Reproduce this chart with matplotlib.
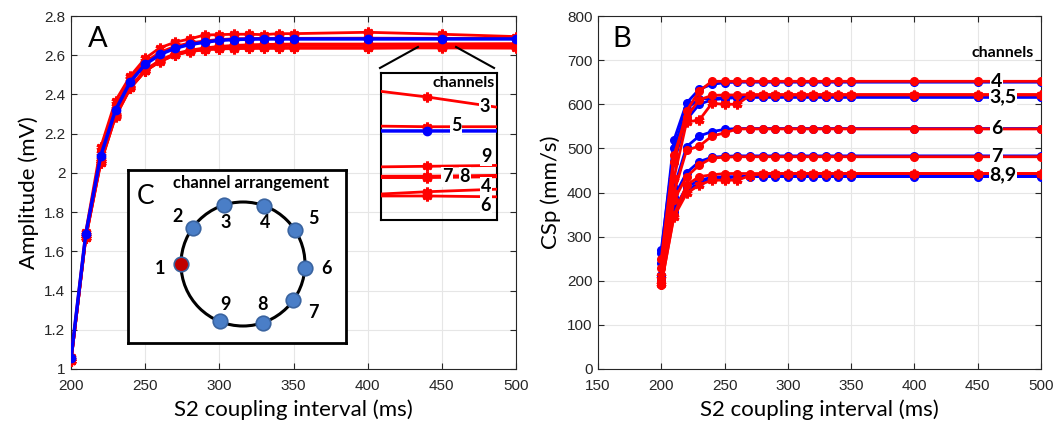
import matplotlib
matplotlib.use("Agg")
import matplotlib.pyplot as plt
from matplotlib.patches import Circle
import numpy as np

# ---------------- data ----------------
interval = [200, 210, 220, 230, 240, 250, 260, 270, 280, 290, 300, 310, 320, 330, 340, 350, 400, 450, 500]

# Panel A: amplitude (mV)
amp_ch3 = [1.06, 1.70, 2.13, 2.368, 2.494, 2.584, 2.638, 2.666, 2.683, 2.703, 2.705, 2.707, 2.707, 2.705, 2.710, 2.710, 2.717, 2.707, 2.695]
amp_ch5 = [1.05, 1.69, 2.10, 2.340, 2.480, 2.565, 2.615, 2.645, 2.662, 2.673, 2.680, 2.684, 2.685, 2.686, 2.686, 2.686, 2.687, 2.686, 2.686]
amp_ch9 = [1.04, 1.68, 2.07, 2.300, 2.440, 2.525, 2.575, 2.608, 2.625, 2.637, 2.645, 2.650, 2.653, 2.655, 2.656, 2.657, 2.657, 2.658, 2.659]
amp_ch7 = [1.04, 1.68, 2.06, 2.295, 2.437, 2.522, 2.572, 2.604, 2.621, 2.632, 2.640, 2.645, 2.647, 2.649, 2.650, 2.650, 2.650, 2.650, 2.651]
amp_ch8 = [1.04, 1.67, 2.06, 2.292, 2.435, 2.521, 2.570, 2.603, 2.620, 2.631, 2.639, 2.644, 2.647, 2.649, 2.650, 2.651, 2.651, 2.651, 2.652]
amp_ch4 = [1.04, 1.67, 2.05, 2.288, 2.433, 2.520, 2.568, 2.602, 2.619, 2.629, 2.633, 2.635, 2.636, 2.636, 2.636, 2.636, 2.636, 2.640, 2.643]
amp_ch6 = [1.04, 1.67, 2.05, 2.286, 2.431, 2.519, 2.567, 2.601, 2.618, 2.628, 2.632, 2.634, 2.635, 2.636, 2.636, 2.637, 2.637, 2.637, 2.636]
amp_blue = [1.054, 1.69, 2.086, 2.320, 2.465, 2.553, 2.604, 2.635, 2.655, 2.666, 2.676, 2.680, 2.682, 2.683, 2.683, 2.683, 2.683, 2.683, 2.683]

amp_red_series = [amp_ch3, amp_ch5, amp_ch9, amp_ch7, amp_ch8, amp_ch4, amp_ch6]

# Panel B: CSp (mm/s)
csp_ch4_red = [230, 470, 585, 630, 652, 652, 652, 652, 652, 652, 652, 652, 652, 652, 652, 652, 652, 652, 652]
csp_ch4_blue = [262, 519, 603, 634, 645, 649, 650, 650, 650, 650, 650, 650, 650, 650, 650, 650, 650, 650, 650]
csp_ch3_red = [210, 432, 560, 564, 602, 600, 600, 620, 621, 621, 621, 621, 621, 621, 621, 621, 621, 621, 621]
csp_ch5_red = [250, 485, 572, 610, 620, 621, 621, 622, 622, 622, 622, 622, 622, 622, 622, 622, 622, 622, 622]
csp_ch3_blue = [240, 470, 565, 600, 610, 613, 615, 616, 616, 616, 616, 616, 616, 616, 616, 616, 616, 616, 616]
csp_ch5_blue = [270, 500, 590, 612, 613, 615, 616, 616, 616, 616, 616, 616, 616, 616, 616, 616, 616, 616, 616]
csp_ch6_red = [200, 400, 496, 505, 528, 535, 544, 544, 544, 544, 544, 544, 544, 544, 544, 544, 544, 544, 544]
csp_ch6_blue = [212, 410, 504, 528, 538, 543, 545, 545, 545, 545, 545, 545, 545, 545, 545, 545, 545, 545, 545]
csp_ch7_red = [196, 383, 436, 462, 478, 480, 481, 481, 481, 481, 481, 481, 481, 481, 481, 481, 481, 481, 481]
csp_ch7_blue = [205, 390, 445, 470, 480, 482, 483, 483, 483, 483, 483, 483, 483, 483, 483, 483, 483, 483, 483]
csp_ch8_red = [190, 349, 417, 436, 440, 443, 443, 443, 443, 443, 443, 443, 443, 443, 443, 443, 443, 443, 443]
csp_ch9_red = [192, 345, 398, 417, 428, 428, 428, 438, 443, 443, 443, 443, 443, 443, 443, 443, 443, 443, 443]
csp_ch8_blue = [200, 362, 412, 428, 434, 436, 436, 437, 437, 437, 437, 437, 437, 437, 437, 437, 437, 437, 437]
csp_ch9_blue = [208, 356, 405, 421, 430, 433, 435, 436, 436, 436, 436, 436, 436, 436, 436, 436, 436, 436, 436]

csp_blue_series = [csp_ch4_blue, csp_ch3_blue, csp_ch5_blue, csp_ch6_blue, csp_ch7_blue, csp_ch8_blue, csp_ch9_blue]
csp_red_series = [csp_ch4_red, csp_ch5_red, csp_ch3_red, csp_ch6_red, csp_ch7_red, csp_ch8_red, csp_ch9_red]
csp_red_star = [False, False, True, False, False, False, True]

# labels
inset_labels = ["3", "5", "9", "7", "8", "4", "6"]
csp_labels = ["4", "3,5", "6", "7", "8,9"]
csp_label_values = [652, 618, 544, 482, 440]

# channel arrangement (angle in degrees on the ring)
chan_ids = ["1", "2", "3", "4", "5", "6", "7", "8", "9"]
chan_angles = [180, 144, 108, 70, 33, -4, -36, -71, -112]

# ---------------- style ----------------
RED = "#FF0000"
BLUE = "#0000FF"
TICKFONT = ["Liberation Sans", "DejaVu Sans"]
LABELFONT = ["Lato", "DejaVu Sans"]
asterisk = (6, 2, 0)

W, H = 1059, 428
fig = plt.figure(figsize=(W / 100, H / 100), dpi=100)


def fx(px):
    return px / W


def fy(py):
    return 1 - py / H


def style_axes(ax):
    ax.grid(True, color="#E6E6E6", linewidth=0.8)
    ax.set_axisbelow(True)
    for s in ax.spines.values():
        s.set_color("#262626")
        s.set_linewidth(0.8)
    ax.tick_params(direction="in", top=True, right=True, length=4, width=0.8,
                   color="#262626", labelsize=11, labelcolor="#262626")
    ax.tick_params(axis="x", pad=7)
    ax.tick_params(axis="y", pad=4)
    for lab in ax.get_xticklabels() + ax.get_yticklabels():
        lab.set_family(TICKFONT)


# ---------------- Panel A ----------------
axA = fig.add_axes([fx(71), fy(369), fx(516) - fx(71), fy(16) - fy(369)])
for s in amp_red_series:
    axA.plot(interval, s, color=RED, lw=2, marker=asterisk, ms=7, mew=2.2, zorder=3)
axA.plot(interval, amp_blue, color=BLUE, lw=2.5, marker="o", ms=6, zorder=4)
axA.set_xlim(200, 500)
axA.set_ylim(1, 2.8)
axA.set_xticks(range(200, 501, 50))
axA.set_yticks(np.arange(1, 2.81, 0.2))
axA.set_yticklabels(["1", "1.2", "1.4", "1.6", "1.8", "2", "2.2", "2.4", "2.6", "2.8"])
style_axes(axA)
axA.set_xlabel("S2 coupling interval (ms)", fontsize=16, family=LABELFONT, labelpad=5)
axA.set_ylabel("Amplitude (mV)", fontsize=16, family=LABELFONT, labelpad=4)
axA.text(0.038, 0.972, "A", transform=axA.transAxes, fontsize=21, family=LABELFONT,
         ha="left", va="top")

# connector lines from zoomed region to inset
axA.plot([408.3, 433.9], [2.535, 2.642], color="black", lw=1.5, clip_on=False, zorder=5)
axA.plot([459.6, 485.2], [2.642, 2.535], color="black", lw=1.5, clip_on=False, zorder=5)

# inset
axI = fig.add_axes([fx(381), fy(220), fx(497) - fx(381), fy(73) - fy(220)])
axI.set_facecolor("none")
for s in amp_red_series:
    axI.plot(interval, s, color=RED, lw=2, marker=asterisk, ms=7, mew=2.2, zorder=3)
axI.plot(interval, amp_blue, color=BLUE, lw=2.5, marker="o", ms=6, zorder=4)
axI.set_xlim(430, 480)
axI.set_ylim(2.62, 2.724)
axI.set_xticks([])
axI.set_yticks([])
for s in axI.spines.values():
    s.set_linewidth(1.5)
    s.set_color("black")
axI.text(0.71, 0.935, "channels", transform=axI.transAxes, fontsize=11.5, weight="bold",
         family=LABELFONT, ha="center", va="center")
inset_pos = [(0.897, 0.771), (0.647, 0.646), (0.905, 0.431), (0.568, 0.293),
             (0.724, 0.293), (0.905, 0.227), (0.905, 0.102)]
for lab, (tx, ty) in zip(inset_labels, inset_pos):
    axI.text(tx, ty, lab, transform=axI.transAxes, fontsize=13, weight="bold",
             family=LABELFONT, ha="center", va="center", zorder=6,
             bbox=dict(facecolor="white", edgecolor="none", pad=0.8))

# ---------------- Panel C ----------------
cw, ch = 218, 173
axC = fig.add_axes([fx(128), fy(343), fx(346) - fx(128), fy(170) - fy(343)])
axC.set_xlim(0, cw)
axC.set_ylim(0, ch)
axC.set_xticks([])
axC.set_yticks([])
axC.set_facecolor("white")
for s in axC.spines.values():
    s.set_linewidth(2)
    s.set_color("black")
cx, cy, r = 243 - 128, 343 - 264, 62
axC.add_patch(Circle((cx, cy), r, fill=False, lw=2.2, color="black"))
for cid, ang in zip(chan_ids, chan_angles):
    a = np.deg2rad(ang)
    px, py = cx + r * np.cos(a), cy + r * np.sin(a)
    fc = "#C00000" if cid == "1" else "#4A7EC7"
    axC.plot(px, py, "o", ms=10.5, mfc=fc, mec="#3A64A0", mew=1.2, zorder=5)
label_pos = {"1": (160, 268), "2": (178, 217), "3": (226, 223), "4": (265, 223),
             "5": (313, 218), "6": (327, 268), "7": (313, 313), "8": (263, 305),
             "9": (225, 304)}
for cid in chan_ids:
    lx, ly = label_pos[cid]
    axC.text(lx - 128, 343 - ly, cid, fontsize=13, weight="bold", family=LABELFONT,
             ha="center", va="center")
axC.text(9, 146, "C", fontsize=19, family=LABELFONT, ha="left", va="center")
axC.text(123, 160, "channel arrangement", fontsize=12, weight="bold", family=LABELFONT,
         ha="center", va="center")

# ---------------- Panel B ----------------
axB = fig.add_axes([fx(598), fy(369), fx(1041) - fx(598), fy(16) - fy(369)])
for s in csp_blue_series:
    axB.plot(interval, s, color=BLUE, lw=2, marker="o", ms=5.5, zorder=3)
for s, star in zip(csp_red_series, csp_red_star):
    if star:
        axB.plot(interval, s, color=RED, lw=2, marker=asterisk, ms=7, mew=2.2, zorder=4)
    else:
        axB.plot(interval, s, color=RED, lw=2, marker="o", ms=5.5, zorder=4)
axB.set_xlim(150, 500)
axB.set_ylim(0, 800)
axB.set_xticks(range(150, 501, 50))
axB.set_yticks(range(0, 801, 100))
style_axes(axB)
axB.set_xlabel("S2 coupling interval (ms)", fontsize=16, family=LABELFONT, labelpad=5)
axB.set_ylabel("CSp (mm/s)", fontsize=16, family=LABELFONT, labelpad=4)
axB.text(0.032, 0.972, "B", transform=axB.transAxes, fontsize=21, family=LABELFONT,
         ha="left", va="top")
axB.text(470, 716, "channels", fontsize=11.5, weight="bold", family=LABELFONT,
         ha="center", va="center", zorder=6)
csp_label_x = [465, 470, 465, 465, 470]
for lab, lx, ly in zip(csp_labels, csp_label_x, csp_label_values):
    axB.text(lx, ly, lab, fontsize=14, weight="bold", family=LABELFONT,
             ha="center", va="center", zorder=6,
             bbox=dict(facecolor="white", edgecolor="none", pad=0.5))

fig.savefig("out.png", dpi=100)
